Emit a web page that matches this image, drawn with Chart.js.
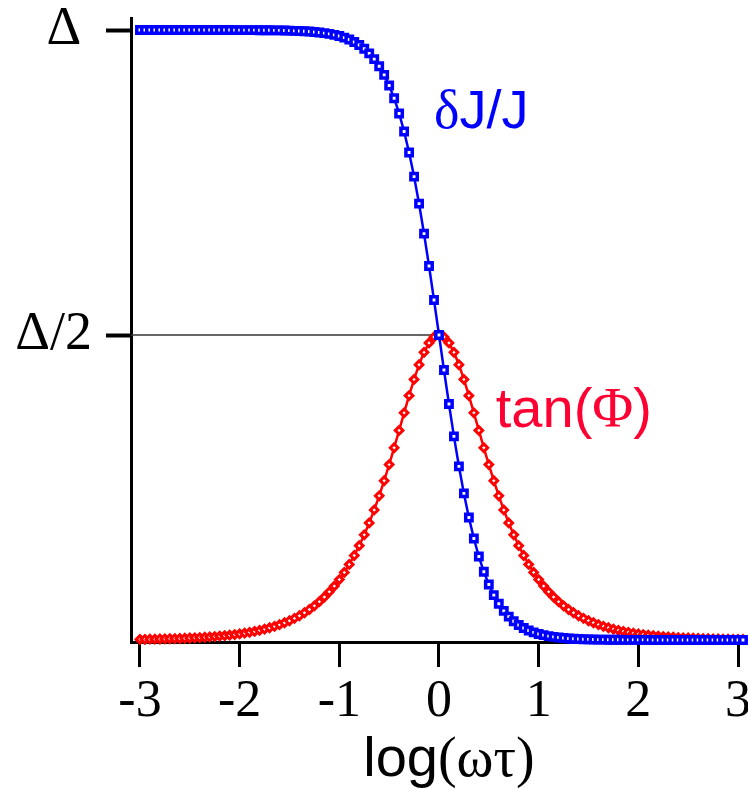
<!DOCTYPE html>
<html>
<head>
<meta charset="utf-8">
<script src="https://cdn.jsdelivr.net/npm/chart.js@4.4.1/dist/chart.umd.min.js"></script>
<style>
  html, body { margin: 0; padding: 0; background: #fff; }
  #chart { display: block; }
</style>
</head>
<body>
<canvas id="chart" width="748" height="790"></canvas>
<script>
// log(ωτ) de -3 a 3, paso 0.05
const logWT = [
  -3.00, -2.95, -2.90, -2.85, -2.80, -2.75, -2.70, -2.65, -2.60, -2.55,
  -2.50, -2.45, -2.40, -2.35, -2.30, -2.25, -2.20, -2.15, -2.10, -2.05,
  -2.00, -1.95, -1.90, -1.85, -1.80, -1.75, -1.70, -1.65, -1.60, -1.55,
  -1.50, -1.45, -1.40, -1.35, -1.30, -1.25, -1.20, -1.15, -1.10, -1.05,
  -1.00, -0.95, -0.90, -0.85, -0.80, -0.75, -0.70, -0.65, -0.60, -0.55,
  -0.50, -0.45, -0.40, -0.35, -0.30, -0.25, -0.20, -0.15, -0.10, -0.05,
  0.00, 0.05, 0.10, 0.15, 0.20, 0.25, 0.30, 0.35, 0.40, 0.45,
  0.50, 0.55, 0.60, 0.65, 0.70, 0.75, 0.80, 0.85, 0.90, 0.95,
  1.00, 1.05, 1.10, 1.15, 1.20, 1.25, 1.30, 1.35, 1.40, 1.45,
  1.50, 1.55, 1.60, 1.65, 1.70, 1.75, 1.80, 1.85, 1.90, 1.95,
  2.00, 2.05, 2.10, 2.15, 2.20, 2.25, 2.30, 2.35, 2.40, 2.45,
  2.50, 2.55, 2.60, 2.65, 2.70, 2.75, 2.80, 2.85, 2.90, 2.95,
  3.00, 3.05, 3.10
];

// δJ/J en unidades de Δ
const deltaJ = [
  1.0000, 1.0000, 1.0000, 1.0000, 1.0000, 1.0000, 1.0000, 1.0000, 1.0000, 1.0000,
  1.0000, 1.0000, 1.0000, 1.0000, 1.0000, 1.0000, 1.0000, 1.0000, 1.0000, 0.9999,
  0.9999, 0.9999, 0.9998, 0.9998, 0.9997, 0.9997, 0.9996, 0.9995, 0.9994, 0.9992,
  0.9990, 0.9987, 0.9984, 0.9980, 0.9975, 0.9968, 0.9960, 0.9950, 0.9937, 0.9921,
  0.9901, 0.9876, 0.9844, 0.9804, 0.9755, 0.9693, 0.9617, 0.9523, 0.9406, 0.9264,
  0.9091, 0.8882, 0.8632, 0.8337, 0.7992, 0.7597, 0.7153, 0.6661, 0.6131, 0.5573,
  0.5000, 0.4427, 0.3869, 0.3339, 0.2847, 0.2403, 0.2008, 0.1663, 0.1368, 0.1118,
  0.0909, 0.0736, 0.0594, 0.0477, 0.0383, 0.0307, 0.0245, 0.0196, 0.0156, 0.0124,
  0.0099, 0.0079, 0.0063, 0.0050, 0.0040, 0.0032, 0.0025, 0.0020, 0.0016, 0.0013,
  0.0010, 0.0008, 0.0006, 0.0005, 0.0004, 0.0003, 0.0003, 0.0002, 0.0002, 0.0001,
  0.0001, 0.0001, 0.0001, 0.0000, 0.0000, 0.0000, 0.0000, 0.0000, 0.0000, 0.0000,
  0.0000, 0.0000, 0.0000, 0.0000, 0.0000, 0.0000, 0.0000, 0.0000, 0.0000, 0.0000,
  0.0000, 0.0000, 0.0000
];

// tan(Φ) en unidades de Δ
const tanPhi = [
  0.0010, 0.0011, 0.0013, 0.0014, 0.0016, 0.0018, 0.0020, 0.0022, 0.0025, 0.0028,
  0.0032, 0.0035, 0.0040, 0.0045, 0.0050, 0.0056, 0.0063, 0.0071, 0.0079, 0.0089,
  0.0100, 0.0112, 0.0126, 0.0141, 0.0158, 0.0178, 0.0200, 0.0224, 0.0251, 0.0282,
  0.0316, 0.0355, 0.0398, 0.0446, 0.0500, 0.0560, 0.0628, 0.0704, 0.0789, 0.0884,
  0.0990, 0.1108, 0.1239, 0.1385, 0.1546, 0.1724, 0.1919, 0.2132, 0.2363, 0.2611,
  0.2875, 0.3151, 0.3436, 0.3724, 0.4006, 0.4272, 0.4513, 0.4716, 0.4870, 0.4967,
  0.5000, 0.4967, 0.4870, 0.4716, 0.4513, 0.4272, 0.4006, 0.3724, 0.3436, 0.3151,
  0.2875, 0.2611, 0.2363, 0.2132, 0.1919, 0.1724, 0.1546, 0.1385, 0.1239, 0.1108,
  0.0990, 0.0884, 0.0789, 0.0704, 0.0628, 0.0560, 0.0500, 0.0446, 0.0398, 0.0355,
  0.0316, 0.0282, 0.0251, 0.0224, 0.0200, 0.0178, 0.0158, 0.0141, 0.0126, 0.0112,
  0.0100, 0.0089, 0.0079, 0.0071, 0.0063, 0.0056, 0.0050, 0.0045, 0.0040, 0.0035,
  0.0032, 0.0028, 0.0025, 0.0022, 0.0020, 0.0018, 0.0016, 0.0014, 0.0013, 0.0011,
  0.0010, 0.0009, 0.0008
];

// línea guía Δ/2 desde el eje hasta el máximo
const halfLineX = [-3.09, 0.0];
const halfLineY = [0.5, 0.5];

const xTickValues = [-3, -2, -1, 0, 1, 2, 3];
const xTickLabels = ["-3", "-2", "-1", "0", "1", "2", "3"];
const yTickValues = [0.5, 1];
const yTickLabels = ["Δ/2", "Δ\u2009"];

const BLUE = "#0000ff";
const RED = "#ff0000";
const LABEL_RED = "#ff0033";
const SERIF = '"Liberation Serif", "DejaVu Serif", serif';
const SANS = '"Liberation Sans", Arial, sans-serif';

const toPoints = (xs, ys) => xs.map((x, i) => ({ x, y: ys[i] }));

// textos con mezcla de fuentes (sans + griego serif)
const annotations = {
  id: "annotations",
  afterDraw(chart) {
    const { ctx, scales } = chart;
    const drawRuns = (runs, x, y, color) => {
      ctx.save();
      ctx.fillStyle = color;
      ctx.textBaseline = "alphabetic";
      ctx.textAlign = "left";
      let cx = x;
      for (const [text, font] of runs) {
        ctx.font = font;
        ctx.fillText(text, cx, y);
        cx += ctx.measureText(text).width;
      }
      ctx.restore();
    };
    drawRuns([["δ", "54px " + SERIF], ["J/J", "54px " + SANS]],
      scales.x.getPixelForValue(-0.05), scales.y.getPixelForValue(0.839), BLUE);
    drawRuns([["tan(", "56px " + SANS], ["Φ", "56px " + SERIF], [")", "56px " + SANS]],
      scales.x.getPixelForValue(0.57), scales.y.getPixelForValue(0.349), LABEL_RED);
    drawRuns([["log", "56px " + SANS], ["(ωτ)", "56px " + SERIF]],
      scales.x.getPixelForValue(-0.76), 776, "#000");
  },
};

new Chart(document.getElementById("chart"), {
  type: "line",
  data: {
    datasets: [
      {
        label: "δJ/J",
        data: toPoints(logWT, deltaJ),
        borderColor: BLUE,
        borderWidth: 2.5,
        pointStyle: "rect",
        pointRadius: 4.5,
        pointBorderWidth: 3.5,
        pointBorderColor: BLUE,
        pointBackgroundColor: "#fff",
        tension: 0,
        clip: false,
      },
      {
        label: "tan(Φ)",
        data: toPoints(logWT, tanPhi),
        borderColor: RED,
        borderWidth: 2.5,
        pointStyle: "rectRot",
        pointRadius: 3.8,
        pointBorderWidth: 3,
        pointBorderColor: RED,
        pointBackgroundColor: "#fff",
        tension: 0,
        clip: false,
      },
      {
        label: "Δ/2",
        data: toPoints(halfLineX, halfLineY),
        borderColor: "#333",
        borderWidth: 1.5,
        pointRadius: 0,
      },
    ],
  },
  options: {
    responsive: false,
    animation: false,
    events: [],
    layout: { padding: { top: 18, right: 0, bottom: 0, left: 0 } },
    plugins: {
      legend: { display: false },
      tooltip: { enabled: false },
    },
    scales: {
      x: {
        type: "linear",
        min: -3.09,
        max: 3.02,
        afterBuildTicks: (s) => { s.ticks = xTickValues.map((value) => ({ value })); },
        afterFit: (s) => { s.height = 148; s.paddingLeft = 0; s.paddingRight = 0; },
        ticks: {
          color: "#000",
          padding: 4,
          font: { family: SERIF, size: 52 },
          maxRotation: 0,
          autoSkip: false,
          callback: (v) => xTickLabels[xTickValues.indexOf(v)],
        },
        grid: { drawOnChartArea: false, drawTicks: true, tickLength: 25, tickWidth: 3, color: "#000" },
        border: { display: true, color: "#000", width: 3 },
      },
      y: {
        type: "linear",
        min: -0.0033,
        max: 1.0197,
        afterBuildTicks: (s) => { s.ticks = yTickValues.map((value) => ({ value })); },
        afterFit: (s) => { s.width = 131; s.paddingTop = 0; s.paddingBottom = 0; },
        ticks: {
          color: "#000",
          padding: 14,
          font: { family: SERIF, size: 54 },
          autoSkip: false,
          callback: (v) => yTickLabels[yTickValues.indexOf(v)],
        },
        grid: { drawOnChartArea: false, drawTicks: true, tickLength: 25, tickWidth: 4, color: "#000" },
        border: { display: true, color: "#000", width: 3 },
      },
    },
  },
  plugins: [annotations],
});
</script>
</body>
</html>
